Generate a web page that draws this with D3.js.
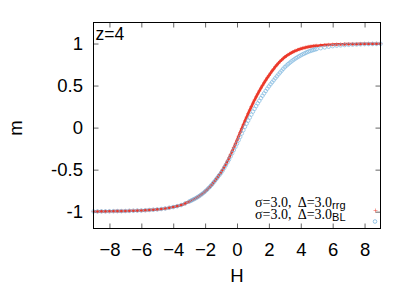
<!DOCTYPE html>
<html>
<head>
<meta charset="utf-8">
<script src="https://cdn.jsdelivr.net/npm/d3@7"></script>
<style>
  body { margin: 0; background: #fff; }
  svg { display: block; }
  text { font-family: "Liberation Sans", Arial, sans-serif; }
</style>
</head>
<body>
<script>
// H values (field), dense in the transition region
const hValues = [
  -9, -8.75, -8.5, -8.25, -8, -7.75, -7.5, -7.25, -7, -6.75, -6.5, -6.25,
  -6, -5.75, -5.5, -5.25, -5, -4.75, -4.5, -4.25, -4, -3.75, -3.5, -3.25,
  -3.0, -2.9, -2.8, -2.7, -2.6, -2.5, -2.4, -2.3, -2.2, -2.1,
  -2.0, -1.9, -1.8, -1.7, -1.6, -1.5, -1.4, -1.3, -1.2, -1.1,
  -1.0, -0.9, -0.8, -0.7, -0.6, -0.5, -0.4, -0.3, -0.2, -0.1,
  0.0, 0.1, 0.2, 0.3, 0.4, 0.5, 0.6, 0.7, 0.8, 0.9,
  1.0, 1.1, 1.2, 1.3, 1.4, 1.5, 1.6, 1.7, 1.8, 1.9,
  2.0, 2.1, 2.2, 2.3, 2.4, 2.5, 2.6, 2.7, 2.8, 2.9,
  3.0, 3.1, 3.2, 3.3, 3.4, 3.5, 3.6, 3.7, 3.8, 3.9,
  4.0, 4.1, 4.2, 4.3, 4.4, 4.5, 4.6, 4.7, 4.8, 4.9,
  5.0, 5.25, 5.5, 5.75, 6, 6.25, 6.5, 6.75, 7, 7.25, 7.5, 7.75,
  8, 8.25, 8.5, 8.75, 9
];

// m for sigma=3.0, Delta=3.0 (rrg)
const mRrg = [
  -0.997, -0.997, -0.996, -0.996, -0.995, -0.994, -0.993, -0.993, -0.992, -0.990, -0.989, -0.987,
  -0.986, -0.983, -0.980, -0.977, -0.973, -0.968, -0.962, -0.954, -0.945, -0.934, -0.921, -0.902,
  -0.880, -0.871, -0.861, -0.851, -0.841, -0.830, -0.818, -0.805, -0.791, -0.776,
  -0.760, -0.742, -0.723, -0.704, -0.683, -0.660, -0.636, -0.611, -0.585, -0.558,
  -0.530, -0.500, -0.468, -0.434, -0.398, -0.360, -0.320, -0.279, -0.237, -0.194,
  -0.150, -0.104, -0.058, -0.012, 0.034, 0.080, 0.124, 0.167, 0.209, 0.250,
  0.290, 0.328, 0.365, 0.401, 0.436, 0.470, 0.502, 0.533, 0.563, 0.592,
  0.620, 0.647, 0.673, 0.698, 0.723, 0.746, 0.767, 0.787, 0.806, 0.823,
  0.839, 0.853, 0.866, 0.878, 0.889, 0.899, 0.908, 0.916, 0.924, 0.931,
  0.938, 0.943, 0.948, 0.953, 0.957, 0.961, 0.964, 0.967, 0.970, 0.972,
  0.974, 0.978, 0.982, 0.985, 0.988, 0.990, 0.991, 0.993, 0.994, 0.995, 0.995, 0.996,
  0.997, 0.997, 0.997, 0.998, 0.998
];

// m for sigma=3.0, Delta=3.0 (BL)
const mBL = [
  -0.997, -0.997, -0.996, -0.996, -0.995, -0.994, -0.993, -0.993, -0.992, -0.990, -0.989, -0.987,
  -0.986, -0.983, -0.980, -0.977, -0.973, -0.968, -0.962, -0.954, -0.945, -0.934, -0.921, -0.902,
  -0.880, -0.871, -0.861, -0.851, -0.841, -0.830, -0.818, -0.805, -0.791, -0.776,
  -0.760, -0.742, -0.723, -0.704, -0.683, -0.660, -0.637, -0.613, -0.588, -0.564,
  -0.540, -0.511, -0.480, -0.448, -0.414, -0.380, -0.343, -0.305, -0.267, -0.229,
  -0.190, -0.150, -0.110, -0.070, -0.030, 0.010, 0.047, 0.083, 0.119, 0.155,
  0.190, 0.223, 0.256, 0.288, 0.319, 0.350, 0.379, 0.407, 0.435, 0.463,
  0.490, 0.515, 0.539, 0.563, 0.587, 0.610, 0.633, 0.655, 0.677, 0.699,
  0.720, 0.737, 0.754, 0.770, 0.785, 0.800, 0.813, 0.826, 0.838, 0.849,
  0.860, 0.870, 0.879, 0.888, 0.897, 0.905, 0.912, 0.918, 0.924, 0.930,
  0.935, 0.945, 0.954, 0.962, 0.969, 0.974, 0.978, 0.982, 0.985, 0.987, 0.989, 0.991,
  0.993, 0.994, 0.995, 0.996, 0.997
];

const xTicks = [-8, -6, -4, -2, 0, 2, 4, 6, 8];
const yTicks = [-1, -0.5, 0, 0.5, 1];

const redColor = "#ec3a2c";
const blueColor = "#7db6de";

// ----- Layout -----
const totalWidth = 415, totalHeight = 290;
const margin = { top: 22.5, right: 34.5, bottom: 61.5, left: 93.5 };
const width = totalWidth - margin.left - margin.right;
const height = totalHeight - margin.top - margin.bottom;

const svg = d3.select("body").append("svg")
    .attr("width", totalWidth)
    .attr("height", totalHeight);

const g = svg.append("g")
    .attr("transform", "translate(" + margin.left + "," + margin.top + ")");

const x = d3.scaleLinear().domain([-9, 9]).range([0, width]);
const y = d3.scaleLinear().domain([-1.2, 1.25]).range([height, 0]);

// ----- Axes (ticks inward, mirrored) -----
function styleAxis(sel) {
    sel.select(".domain").remove();
    sel.selectAll(".tick line").attr("stroke", "#666");
    sel.selectAll(".tick text")
        .attr("fill", "#000")
        .style("font-family", "'Liberation Sans', Arial, sans-serif")
        .style("font-size", "18.5px");
}

g.append("g")
    .attr("transform", "translate(0," + height + ")")
    .call(d3.axisBottom(x).tickValues(xTicks).tickSizeInner(-5).tickSizeOuter(0).tickPadding(14.5))
    .call(styleAxis);

g.append("g")
    .call(d3.axisTop(x).tickValues(xTicks).tickSizeInner(-5).tickSizeOuter(0).tickFormat(""))
    .call(styleAxis);

g.append("g")
    .call(d3.axisLeft(y).tickValues(yTicks).tickSizeInner(-5).tickSizeOuter(0).tickPadding(10.5)
        .tickFormat(d => String(d)))
    .call(styleAxis);

g.append("g")
    .attr("transform", "translate(" + width + ",0)")
    .call(d3.axisRight(y).tickValues(yTicks).tickSizeInner(-5).tickSizeOuter(0).tickFormat(""))
    .call(styleAxis);

// ----- Data -----
const rrgData = hValues.map((h, i) => ({ h: h, m: mRrg[i] }));
const blData = hValues.map((h, i) => ({ h: h, m: mBL[i] }));

const line = d3.line()
    .x(d => x(d.h))
    .y(d => y(d.m))
    .curve(d3.curveMonotoneX);

const plot = g.append("g");

// rrg: dense red "+" points forming a thick line
plot.append("path")
    .datum(rrgData)
    .attr("d", line)
    .attr("fill", "none")
    .attr("stroke", redColor)
    .attr("stroke-width", 2.6);

plot.selectAll(".plus")
    .data(rrgData)
    .enter().append("path")
    .attr("class", "plus")
    .attr("transform", d => "translate(" + x(d.h) + "," + y(d.m) + ")")
    .attr("d", "M-2,0H2M0,-2V2")
    .attr("stroke", redColor)
    .attr("stroke-opacity", 0.6)
    .attr("stroke-width", 0.8);

// BL: open light-blue circles drawn on top
plot.selectAll(".circ")
    .data(blData)
    .enter().append("circle")
    .attr("class", "circ")
    .attr("cx", d => x(d.h))
    .attr("cy", d => y(d.m))
    .attr("r", 1.8)
    .attr("fill", "none")
    .attr("stroke", blueColor)
    .attr("stroke-opacity", 0.85)
    .attr("stroke-width", 0.8);

// ----- Border -----
g.append("rect")
    .attr("width", width)
    .attr("height", height)
    .attr("fill", "none")
    .attr("stroke", "#000")
    .attr("stroke-width", 1);

// ----- Labels -----
svg.append("text")
    .attr("x", 237)
    .attr("y", 282)
    .attr("text-anchor", "middle")
    .style("font-size", "18.5px")
    .text("H");

svg.append("text")
    .attr("transform", "translate(21.5,128) rotate(-90)")
    .attr("text-anchor", "middle")
    .style("font-size", "18.5px")
    .text("m");

svg.append("text")
    .attr("x", 95.5)
    .attr("y", 40)
    .style("font-size", "17.5px")
    .text("z=4");

// ----- Legend -----
const legendLabels = ["rrg", "BL"];
const legend = svg.append("g");

legendLabels.forEach((lab, i) => {
    const ly = 206.5 + i * 12;
    const t = legend.append("text")
        .attr("x", 255)
        .attr("y", ly)
        .style("font-family", "'Liberation Serif', 'Times New Roman', serif")
        .style("font-size", "14px")
        .style("white-space", "pre");
    t.append("tspan").text("σ=3.0,  Δ=3.0");
    t.append("tspan")
        .attr("dy", 2)
        .style("font-family", "'Liberation Sans', Arial, sans-serif")
        .style("font-size", "11px")
        .text(lab);
});

legend.append("path")
    .attr("transform", "translate(375.5,210.5)")
    .attr("d", "M-2,0H2M0,-2V2")
    .attr("stroke", redColor)
    .attr("stroke-opacity", 0.6)
    .attr("stroke-width", 0.8);

legend.append("circle")
    .attr("cx", 375)
    .attr("cy", 221.5)
    .attr("r", 1.8)
    .attr("fill", "none")
    .attr("stroke", blueColor)
    .attr("stroke-width", 0.8);
</script>
</body>
</html>
